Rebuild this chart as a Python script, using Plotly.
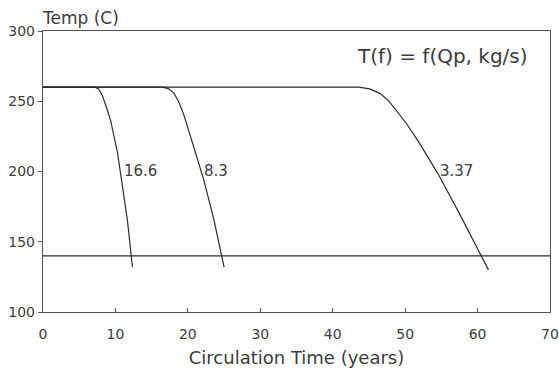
import plotly.graph_objects as go

# Fluid temperature vs circulation time for three pumping rates (kg/s)
rate_labels = ["16.6", "8.3", "3.37"]

time_166 = [0, 7.2, 7.7, 8.2, 8.8, 9.35, 10.3, 10.95, 11.65, 12.35]
temp_166 = [260, 260, 258.5, 254, 245, 236, 213, 189, 165.5, 132]

time_83 = [0, 16.5, 17.3, 18.1, 18.75, 19.4, 20.8, 22.2, 23.6, 25.0]
temp_83 = [260, 260, 259, 255.6, 249.5, 241, 217.7, 194, 165.5, 132]

time_337 = [0, 43.6, 45.1, 46.5, 47.7, 48.8, 50.2, 52.0, 54.5, 57.5, 60.5, 61.5]
temp_337 = [260, 260, 258.8, 255.6, 250.5, 243.5, 234, 220, 198.7, 170, 139.4, 130]

# label anchor points on each curve (time, temperature)
label_time = [10.9, 21.9, 54.5]
label_temp = [200.5, 200.5, 200.5]

# minimum temperature limit
limit_time = [0, 70]
limit_temp = [140, 140]

x_ticks = [0, 10, 20, 30, 40, 50, 60, 70]
y_ticks = [100, 150, 200, 250, 300]

line_color = "#2a2a2a"
axis_color = "#555555"
text_color = "#3c3c3c"
font_family = "DejaVu Sans, sans-serif"

fig = go.Figure()
for t, T in [(time_166, temp_166), (time_83, temp_83), (time_337, temp_337)]:
    fig.add_trace(go.Scatter(x=t, y=T, mode="lines",
                             line=dict(color=line_color, width=1.2),
                             showlegend=False, hoverinfo="skip"))
fig.add_trace(go.Scatter(x=limit_time, y=limit_temp, mode="lines",
                         line=dict(color=line_color, width=1.2),
                         showlegend=False, hoverinfo="skip"))

for lbl, lx, ly in zip(rate_labels, label_time, label_temp):
    fig.add_annotation(x=lx, y=ly, text=lbl, showarrow=False, xanchor="left",
                       yanchor="middle", font=dict(size=15, color=text_color, family=font_family))

fig.add_annotation(xref="paper", yref="paper", x=0, y=1, yanchor="bottom", xanchor="left",
                   yshift=1, xshift=-3, text="Temp (C)", showarrow=False,
                   font=dict(size=17, color=text_color, family=font_family))
fig.add_annotation(x=55.1, y=282, text="T(f) = f(Qp, kg/s)", showarrow=False,
                   font=dict(size=20, color=text_color, family=font_family))

fig.update_layout(
    width=559, height=368,
    margin=dict(l=42, r=8, t=31, b=56),
    plot_bgcolor="white", paper_bgcolor="white",
    font=dict(family=font_family, color=text_color, size=14),
    xaxis=dict(range=[0, 70], tickvals=x_ticks, showgrid=False, zeroline=False,
               showline=True, linecolor=axis_color, linewidth=1.4, mirror=True,
               ticks="inside", ticklen=4, tickcolor=axis_color,
               ticklabelstandoff=9, automargin=False,
               title=dict(text="Circulation Time (years)", font=dict(size=18), standoff=11),
               tickfont=dict(size=14)),
    yaxis=dict(range=[100, 300], tickvals=y_ticks, showgrid=False, zeroline=False,
               showline=True, linecolor=axis_color, linewidth=1.4, mirror=True,
               ticks="outside", ticklen=4, tickcolor=axis_color,
               tickfont=dict(size=14)),
)

fig.write_html("out.html")
